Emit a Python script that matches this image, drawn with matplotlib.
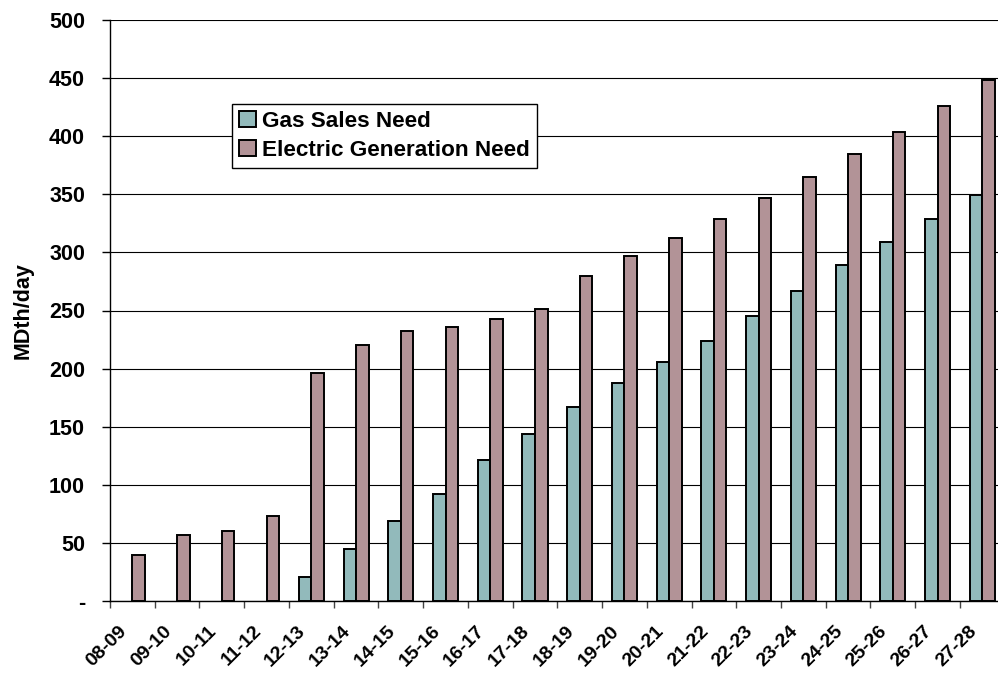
import matplotlib
matplotlib.use("Agg")
import matplotlib.pyplot as plt
import matplotlib.transforms as mtransforms
import numpy as np

plt.rcParams['font.family'] = ['Liberation Sans', 'DejaVu Sans']
plt.rcParams['font.weight'] = 'bold'

categories = ["08-09", "09-10", "10-11", "11-12", "12-13", "13-14", "14-15",
              "15-16", "16-17", "17-18", "18-19", "19-20", "20-21", "21-22",
              "22-23", "23-24", "24-25", "25-26", "26-27", "27-28"]
gas_sales = [np.nan, np.nan, np.nan, np.nan, 21, 45, 69, 92, 121, 144, 167,
             188, 206, 224, 245, 267, 289, 309, 329, 349]
electric_gen = [40, 57, 60, 73, 196, 220, 232, 236, 243, 251, 280, 297, 312,
                329, 347, 365, 385, 404, 426, 448]
y_ticks = [0, 50, 100, 150, 200, 250, 300, 350, 400, 450, 500]
y_tick_labels = ["-", "50", "100", "150", "200", "250", "300", "350", "400",
                 "450", "500"]

gas_color = "#92BABB"
elec_color = "#B29397"

W, H = 998, 675
fig = plt.figure(figsize=(W / 100, H / 100), dpi=100)
ax = fig.add_axes([110 / W, 74 / H, 894.7 / W, 581 / H])

x = np.arange(len(categories))
bw = 0.28
ax.bar(x - bw / 2, gas_sales, width=bw, color=gas_color, edgecolor="black",
       linewidth=1.4, label="Gas Sales Need", zorder=3)
ax.bar(x + bw / 2, electric_gen, width=bw, color=elec_color, edgecolor="black",
       linewidth=1.4, label="Electric Generation Need", zorder=3)

ax.set_xlim(-0.5, len(categories) - 0.5)
ax.set_ylim(0, 500)
ax.set_yticks(y_ticks)
ax.set_yticklabels(y_tick_labels, fontsize=15.5, fontweight='bold')
ax.yaxis.grid(True, color="black", linewidth=0.8, zorder=0)
ax.set_axisbelow(True)

# category boundaries as ticks, labels at centers
ax.set_xticks(np.arange(len(categories) + 1) - 0.5)
ax.set_xticklabels([])
ax.tick_params(axis='x', which='major', direction='out', length=5,
               width=1.0, color="#444444")
ax.set_xticks(x, minor=True)
ax.set_xticklabels(categories, minor=True, rotation=45, ha='right',
                   va='center', rotation_mode='anchor', fontsize=14,
                   fontweight='bold')
ax.tick_params(axis='x', which='minor', length=0, pad=20)
offset = mtransforms.ScaledTranslation(-8 / 100, 0, fig.dpi_scale_trans)
for lbl in ax.xaxis.get_minorticklabels():
    lbl.set_transform(lbl.get_transform() + offset)

ax.tick_params(axis='y', direction='out', length=6, width=1.0, pad=12)

for s in ['top', 'right']:
    ax.spines[s].set_visible(False)
ax.spines['left'].set_linewidth(1.0)
ax.spines['bottom'].set_linewidth(1.0)

ax.set_ylabel("MDth/day", fontsize=15.5, fontweight='bold', labelpad=11)

leg = ax.legend(loc='upper left', bbox_to_anchor=(0.1364, 0.855),
                borderaxespad=0, fancybox=False, framealpha=1,
                edgecolor="black", handlelength=0.75,
                handleheight=0.75, handletextpad=0.3, borderpad=0.3,
                labelspacing=0.35, prop={'weight': 'bold', 'size': 16.2})
leg.get_frame().set_linewidth(1.0)

fig.savefig("out.png", dpi=100)
